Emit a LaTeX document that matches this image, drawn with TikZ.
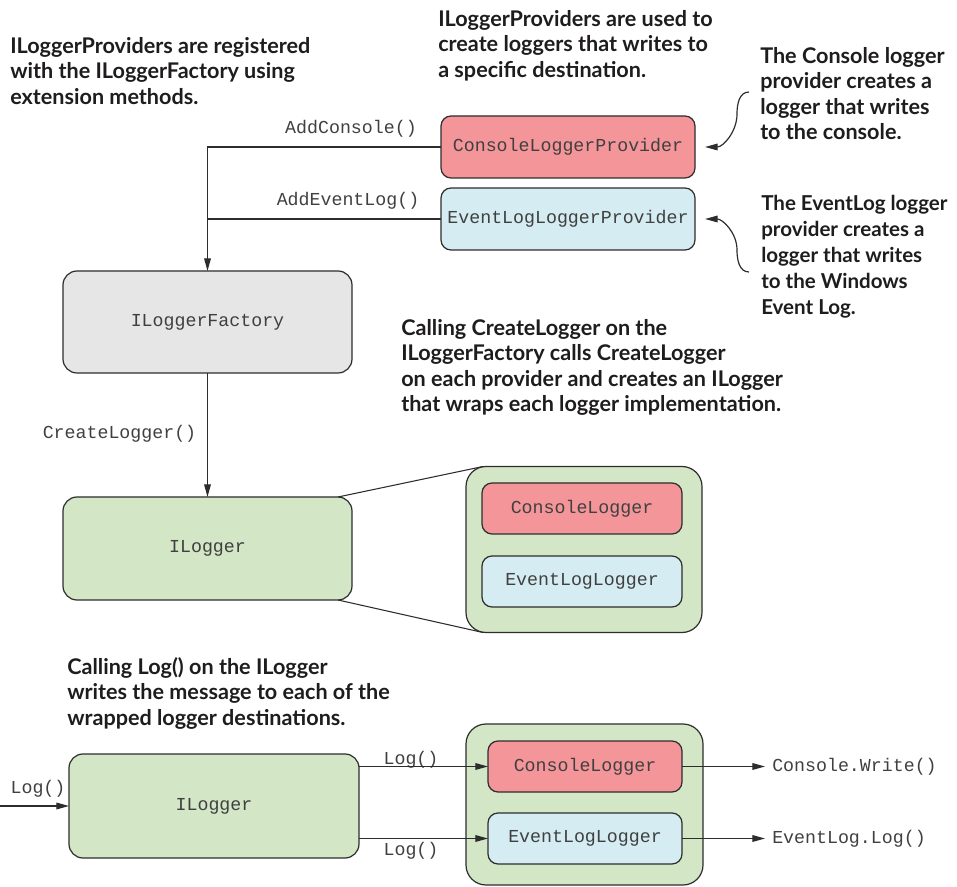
\documentclass[tikz,border=0pt]{standalone}
\usepackage{fontspec}
\setmainfont{Lato}
\setmonofont{Liberation Mono}
\usetikzlibrary{arrows.meta,calc}
\definecolor{redf}{RGB}{244,149,153}
\definecolor{bluef}{RGB}{212,236,242}
\definecolor{greenf}{RGB}{211,230,198}
\definecolor{greyf}{RGB}{230,230,230}
\definecolor{edgec}{RGB}{45,45,45}
\definecolor{monotxt}{RGB}{64,64,64}
\definecolor{anntxt}{RGB}{30,28,29}
\newcommand\monof{\fontsize{13.7}{16}\selectfont\ttfamily}
\newcommand\annf{\fontsize{16.2}{19.1}\selectfont\bfseries}
\newcommand\annsmall{\fontsize{15.4}{19.5}\selectfont\bfseries}
\begin{document}
\begin{tikzpicture}[x=0.75pt,y=-0.75pt,
  box/.style={draw=edgec, line width=0.9pt, rounded corners=#1, inner sep=0pt, outer sep=0pt, font=\monof, text=monotxt},
  box/.default=10.5pt,
  conn/.style={draw=edgec, line width=0.9pt},
  arr/.style={conn, -{Triangle[length=9.5pt,width=5pt]}},
  zline/.style={draw=edgec, line width=0.8pt},
  lbl/.style={font=\monof, text=monotxt, inner sep=0pt},
  ann/.style={font=\annf, text=anntxt, align=left, anchor=north west, inner sep=0pt},
  red box/.style={box=7.5pt, fill=redf},
  blue box/.style={box=7.5pt, fill=bluef}
]
\useasboundingbox (0,0) rectangle (957,887);

% annotations
\node[ann] (t1) at (10,37) {ILoggerProviders are registered\\with the ILoggerFactory using\\extension methods.};
\node[ann] (t2) at (438,10) {ILoggerProviders are used to\\create loggers that writes to\\a specific destination.};
\node[ann] (t3) at (760,47) {The Console logger\\provider creates a\\logger that writes\\to the console.};
\node[ann, font=\annsmall] (t4) at (761,195) {The EventLog logger\\provider creates a\\logger that writes\\to the Windows\\Event Log.};
\node[ann] (t5) at (401,319) {Calling CreateLogger on the\\ILoggerFactory calls CreateLogger\\on each provider and creates an ILogger\\that wraps each logger implementation.};
\node[ann] (t6) at (67,657) {Calling Log() on the ILogger\\writes the message to each of the\\wrapped logger destinations.};

% providers
\node[red box, minimum width=190.5pt, minimum height=46.5pt] (cpr) at (568,147) {ConsoleLoggerProvider};
\node[blue box, minimum width=190.5pt, minimum height=46.5pt] (epr) at (568,219) {EventLogLoggerProvider};

% factory and logger
\node[box, fill=greyf, minimum width=216.75pt, minimum height=76.5pt] (fac) at (207.5,322) {ILoggerFactory};
\node[box, fill=greenf, minimum width=216.75pt, minimum height=77.25pt] (ilog) at (207.5,548.5) {ILogger};

% wrapped container (middle)
\node[box=15pt, fill=greenf, minimum width=177pt, minimum height=124.5pt] (cont) at (584,549.5) {};
\node[red box, minimum width=150pt, minimum height=38.25pt] (cl1) at (582,508.5) {ConsoleLogger};
\node[blue box, minimum width=150pt, minimum height=38.25pt] (el1) at (582,581.5) {EventLogLogger};

% bottom
\node[box, fill=greenf, minimum width=217.5pt, minimum height=78pt] (ilog2) at (214,806) {ILogger};
\node[box=15pt, fill=greenf, minimum width=177.75pt, minimum height=120.75pt] (cont2) at (584.5,804.5) {};
\node[red box, minimum width=145.5pt, minimum height=38.25pt] (cl2) at (585,766.5) {ConsoleLogger};
\node[blue box, minimum width=145.5pt, minimum height=38.25pt] (el2) at (585,838.5) {EventLogLogger};

% labels
\node[lbl] (lac) at (351,129) {AddConsole()};
\node[lbl] (lae) at (348,201) {AddEventLog()};
\node[lbl] (lcl) at (119.5,434) {CreateLogger()};
\node[lbl] (lin) at (38,789) {Log()};
\node[lbl] (lt) at (411,760) {Log()};
\node[lbl] (lb) at (411,851) {Log()};
\node[lbl, anchor=west, inner xsep=5.25pt] (cw) at (765,766.5) {Console.Write()};
\node[lbl, anchor=west, inner xsep=5.25pt] (elg) at (765,838.5) {EventLog.Log()};

% connectors
\draw[arr] (cpr.west) -| (fac.north);
\draw[conn] (epr.west) -- (epr.west -| fac.north);
\draw[arr] (fac.south) -- (ilog.north);
\draw[zline] ([xshift=-10.5pt]ilog.north east) -- ([xshift=12.75pt]cont.north west);
\draw[zline] ([xshift=-10.5pt]ilog.south east) -- ([xshift=12.75pt]cont.south west);

\coordinate (cstart) at (749,92);
\coordinate (estart) at (749,272);
\draw[arr] (cstart) to[out=180,in=90] (737,114) to[out=-90,in=0] ([xshift=7.5pt]cpr.east);
\draw[arr] (estart) to[out=180,in=-90] (737,250) to[out=90,in=0] ([xshift=7.5pt]epr.east);

\coordinate (src) at (0,806);
\draw[arr] (src) -- (ilog2.west);
\draw[arr] (ilog2.east |- cl2.west) -- (cl2.west);
\draw[arr] (ilog2.east |- el2.west) -- (el2.west);
\draw[arr] (cl2.east) -- (cw.west);
\draw[arr] (el2.east) -- (elg.west);
\end{tikzpicture}
\end{document}
